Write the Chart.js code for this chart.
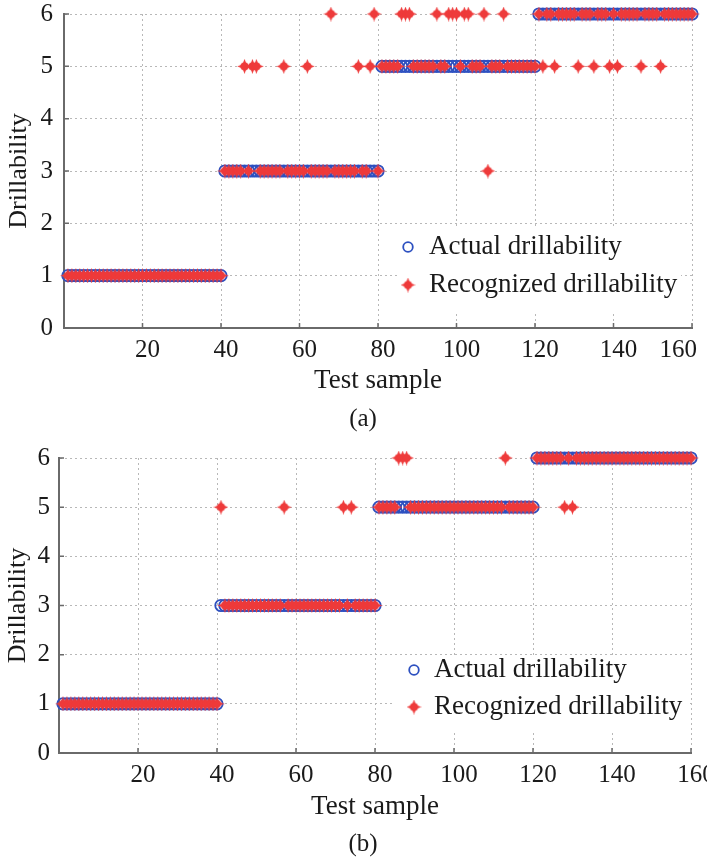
<!DOCTYPE html>
<html>
<head>
<meta charset="utf-8">
<script src="https://cdn.jsdelivr.net/npm/chart.js@4/dist/chart.umd.min.js"></script>
<style>
  html, body { margin: 0; padding: 0; background: #ffffff; }
  #wrap { position: relative; width: 707px; height: 861px; overflow: hidden; }
  canvas { position: absolute; left: 0; }
  .cap { position: absolute; width: 100px; text-align: center; font-family: "Liberation Serif", "Times New Roman", serif;
         font-size: 25px; line-height: 25px; color: #1a1a1a; }
</style>
</head>
<body>
<div id="wrap">
  <canvas id="chartA" width="707" height="430" style="top:0px"></canvas>
  <canvas id="chartB" width="707" height="431" style="top:430px"></canvas>
  <div class="cap" id="capA" style="left:313px; top:405px"></div>
  <div class="cap" id="capB" style="left:313px; top:830px"></div>
</div>
<script>
// ---------------- data ----------------
const seriesLabels = ['Actual drillability', 'Recognized drillability'];
const xAxisTitle = 'Test sample';
const yAxisTitle = 'Drillability';
const captions = ['(a)', '(b)'];
const xTickValues = [0, 20, 40, 60, 80, 100, 120, 140, 160];
const yTickValues = [0, 1, 2, 3, 4, 5, 6];

// actual drillability grade of test samples 1..160
const actualDrillability = [
  1,1,1,1,1,1,1,1,1,1,1,1,1,1,1,1,1,1,1,1,
  1,1,1,1,1,1,1,1,1,1,1,1,1,1,1,1,1,1,1,1,
  3,3,3,3,3,3,3,3,3,3,3,3,3,3,3,3,3,3,3,3,
  3,3,3,3,3,3,3,3,3,3,3,3,3,3,3,3,3,3,3,3,
  5,5,5,5,5,5,5,5,5,5,5,5,5,5,5,5,5,5,5,5,
  5,5,5,5,5,5,5,5,5,5,5,5,5,5,5,5,5,5,5,5,
  6,6,6,6,6,6,6,6,6,6,6,6,6,6,6,6,6,6,6,6,
  6,6,6,6,6,6,6,6,6,6,6,6,6,6,6,6,6,6,6,6
];

// recognized drillability, panel (a)
const recognizedA = [
  1,1,1,1,1,1,1,1,1,1,1,1,1,1,1,1,1,1,1,1,
  1,1,1,1,1,1,1,1,1,1,1,1,1,1,1,1,1,1,1,1,
  3,3,3,3,3,5,3,5,5,3,3,3,3,3,3,5,3,3,3,3,
  3,5,3,3,3,3,3,6,3,3,3,3,3,3,5,3,3,5,6,3,
  5,5,5,5,5,6,6,6,5,5,5,5,5,5,6,5,5,6,6,6,
  5,6,6,5,5,5,6,3,5,5,5,6,5,5,5,5,5,5,5,5,
  6,5,6,6,5,6,6,6,6,6,5,6,6,6,5,6,6,6,5,6,
  5,6,6,6,6,6,5,6,6,6,6,5,6,6,6,6,6,6,6,6
];

// recognized drillability, panel (b)
const recognizedB = [
  1,1,1,1,1,1,1,1,1,1,1,1,1,1,1,1,1,1,1,1,
  1,1,1,1,1,1,1,1,1,1,1,1,1,1,1,1,1,1,1,1,
  5,3,3,3,3,3,3,3,3,3,3,3,3,3,3,3,5,3,3,3,
  3,3,3,3,3,3,3,3,3,3,3,5,3,5,3,3,3,3,3,3,
  5,5,5,5,5,6,6,6,5,5,5,5,5,5,5,5,5,5,5,5,
  5,5,5,5,5,5,5,5,5,5,5,5,6,5,5,5,5,5,5,5,
  6,6,6,6,6,6,6,5,6,5,6,6,6,6,6,6,6,6,6,6,
  6,6,6,6,6,6,6,6,6,6,6,6,6,6,6,6,6,6,6,6
];

// ---------------- styling ----------------
const FONT = '"Liberation Serif", "Times New Roman", serif';
const TEXT = '#1a1a1a';
const BLUE = '#2d50c0';
const RED = '#ee3a3a';
const GRID = '#b8b8b8';
const AXIS = '#6a6a6a';

Chart.defaults.font.family = FONT;
Chart.defaults.color = TEXT;

function makeStar(color) {
  const c = document.createElement('canvas');
  c.width = 15; c.height = 15;
  const g = c.getContext('2d');
  g.fillStyle = color;
  const cx = 7.5, cy = 7.5, R = 7.4, r = 2.9;
  g.beginPath();
  for (let k = 0; k < 8; k++) {
    const ang = k * Math.PI / 4 - Math.PI / 2;
    const rad = (k % 2 === 0) ? R : r;
    g.lineTo(cx + rad * Math.cos(ang), cy + rad * Math.sin(ang));
  }
  g.closePath(); g.fill();
  g.beginPath(); g.arc(cx, cy, 4.1, 0, Math.PI * 2); g.fill();
  return c;
}
const starImg = makeStar(RED);

// inward tick marks (MATLAB style)
const innerTicks = {
  id: 'innerTicks',
  beforeDatasetsDraw(chart) {
    const { ctx, chartArea: a, scales: { x, y } } = chart;
    ctx.save();
    ctx.strokeStyle = AXIS; ctx.lineWidth = 1.5;
    ctx.beginPath();
    y.ticks.forEach(t => { const py = y.getPixelForValue(t.value); ctx.moveTo(a.left, py); ctx.lineTo(a.left + 5, py); });
    x.ticks.forEach(t => { const px = x.getPixelForValue(t.value); ctx.moveTo(px, a.bottom); ctx.lineTo(px, a.bottom - 5); });
    ctx.stroke();
    ctx.restore();
  }
};

// legend drawn inside plot area
const insideLegend = {
  id: 'insideLegend',
  afterDraw(chart, args, opts) {
    const { ctx } = chart;
    ctx.save();
    ctx.fillStyle = '#ffffff';
    ctx.fillRect(opts.box[0], opts.box[1], opts.box[2], opts.box[3]);
    ctx.font = '27px ' + FONT;
    ctx.textBaseline = 'middle';
    ctx.textAlign = 'left';
    chart.data.datasets.forEach((ds, i) => {
      const yy = opts.rows[i];
      ctx.save();
      ctx.strokeStyle = ds.borderColor;
      ctx.fillStyle = '#ffffff';
      ctx.lineWidth = ds.borderWidth || 1;
      Chart.helpers.drawPoint(ctx, { pointStyle: ds.pointStyle, rotation: 0, radius: 4.8, borderWidth: ds.borderWidth || 1 }, opts.markerX, yy);
      ctx.restore();
      ctx.fillStyle = TEXT;
      ctx.fillText(ds.label, opts.textX, yy);
    });
    ctx.restore();
  }
};

function makeChart(id, recognized, g) {
  const toPoints = arr => arr.map((v, i) => ({ x: i + 1, y: v }));
  return new Chart(document.getElementById(id), {
    type: 'scatter',
    data: {
      datasets: [
        {
          label: seriesLabels[0],
          data: toPoints(actualDrillability),
          pointStyle: 'circle',
          pointRadius: 5.7,
          borderWidth: 1.8,
          borderColor: BLUE,
          backgroundColor: 'rgba(0,0,0,0)',
          clip: false,
          order: 2
        },
        {
          label: seriesLabels[1],
          data: toPoints(recognized),
          pointStyle: starImg,
          pointRadius: 7,
          borderColor: RED,
          backgroundColor: RED,
          clip: false,
          order: 1
        }
      ]
    },
    options: {
      responsive: false,
      animation: false,
      devicePixelRatio: 1,
      layout: { padding: g.padding },
      plugins: {
        legend: { display: false },
        tooltip: { enabled: false },
        insideLegend: g.legend
      },
      scales: {
        x: {
          type: 'linear',
          min: 0, max: 160,
          afterBuildTicks: s => { s.ticks = xTickValues.map(v => ({ value: v })); },
          afterFit: s => { s.height = g.xHeight; s.paddingLeft = 0; s.paddingRight = 0; },
          grid: { color: GRID, lineWidth: 1, drawTicks: false },
          border: { display: true, color: AXIS, width: 2, dash: [2, 3] },
          ticks: { padding: 7, maxRotation: 0, autoSkip: false, color: TEXT, font: { size: 25 },
                   labelOffset: 5, align: g.xAlign,
                   callback: v => (v === 0 ? '' : String(v)) },
          title: { display: true, text: xAxisTitle, color: TEXT, font: { size: 27 }, padding: { top: 0, bottom: g.xTitlePad } }
        },
        y: {
          type: 'linear',
          min: 0, max: 6,
          afterBuildTicks: s => { s.ticks = yTickValues.map(v => ({ value: v })); },
          afterFit: s => { s.width = g.yWidth; s.paddingTop = 0; s.paddingBottom = 0; },
          grid: { color: GRID, lineWidth: 1, drawTicks: false },
          border: { display: true, color: AXIS, width: 2, dash: [2, 3] },
          ticks: { padding: g.yTickPad, color: TEXT, font: { size: 25 } },
          title: { display: true, text: yAxisTitle, color: TEXT, font: { size: 26 }, padding: { top: g.yTitlePad, bottom: 0 } }
        }
      }
    },
    plugins: [innerTicks, insideLegend]
  });
}

makeChart('chartA', recognizedA, {
  padding: { top: 14, right: 15, bottom: 32, left: 0 },
  xHeight: 70, xTitlePad: 1, xAlign: 'inner', yWidth: 64, yTickPad: 11, yTitlePad: 4,
  legend: { box: [397, 228, 284, 84], rows: [247, 285], markerX: 408, textX: 429 }
});
makeChart('chartB', recognizedB, {
  padding: { top: 28, right: 16, bottom: 38, left: 0 },
  xHeight: 70, xTitlePad: 0, xAlign: 'center', yWidth: 59, yTickPad: 9, yTitlePad: 2.5,
  legend: { box: [395, 225, 293, 77], rows: [240, 277], markerX: 414, textX: 434 }
});

document.getElementById('capA').textContent = captions[0];
document.getElementById('capB').textContent = captions[1];
</script>
</body>
</html>
